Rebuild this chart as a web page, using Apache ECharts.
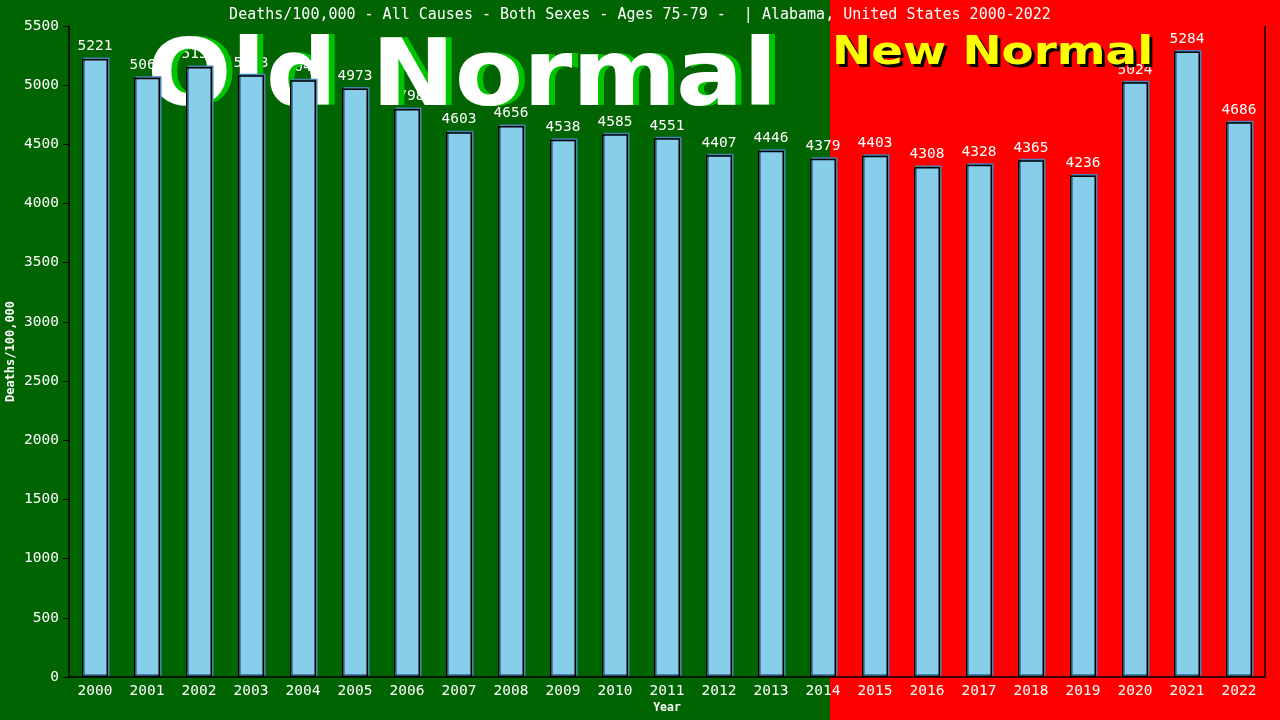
<!DOCTYPE html>
<html><head><meta charset="utf-8">
<script src="https://cdn.jsdelivr.net/npm/echarts@6/dist/echarts.min.js"></script>
<style>html,body{margin:0;padding:0;background:#000}#c{width:1280px;height:720px}</style>
</head><body><div id="c"></div>
<script>
const years = ['2000','2001','2002','2003','2004','2005','2006','2007','2008','2009','2010','2011','2012','2013','2014','2015','2016','2017','2018','2019','2020','2021','2022'];
const deaths = [5221,5063,5153,5083,5042,4973,4798,4603,4656,4538,4585,4551,4407,4446,4379,4403,4308,4328,4365,4236,5024,5284,4686];
const yTicks = {min:0, max:5500, interval:500};
const titleText = 'Deaths/100,000 - All Causes - Both Sexes - Ages 75-79 -  | Alabama, United States 2000-2022';
const mono = '"DejaVu Sans Mono", "Liberation Mono", monospace';
const sans = '"DejaVu Sans", sans-serif';

function bigText(txt, x, y, size, sx, fill, shadow, dx, dy) {
  return [
    {type:'text',z:1.4,x:x+dx,y:y+dy,scaleX:sx,silent:true,style:{text:txt,fill:shadow,fontSize:size,fontWeight:'bold',fontFamily:sans,verticalAlign:'top'}},
    {type:'text',z:1.5,x:x,y:y,scaleX:sx,silent:true,style:{text:txt,fill:fill,fontSize:size,fontWeight:'bold',fontFamily:sans,verticalAlign:'top'}}
  ];
}

const chart = echarts.init(document.getElementById('c'));
chart.setOption({
  animation:false,
  backgroundColor:'#006400',
  title:{text:titleText,left:'center',top:3,textStyle:{color:'#fff',fontFamily:mono,fontSize:15,fontWeight:'normal'}},
  graphic:[
    {type:'rect',z:-10,shape:{x:0,y:0,width:830,height:720},style:{fill:'#006400'},silent:true},
    {type:'rect',z:-10,shape:{x:830,y:0,width:450,height:720},style:{fill:'#ff0000'},silent:true}
  ].concat(
    bigText('Old Normal',147,34,93,1.07,'#ffffff','#00c400',6,0),
    bigText('New Normal',832,34,39,1.2,'#ffff00','#000000',3,3),
    [{type:'line',z:2,shape:{x1:1265,y1:26,x2:1265,y2:677},style:{stroke:'#000',lineWidth:1.5}}]
  ),
  grid:{left:69,right:15,top:26,bottom:43,show:false,outerBoundsMode:'none',containLabel:false},
  xAxis:{type:'category',data:years,name:'Year',nameLocation:'middle',nameGap:25,nameMoveOverlap:false,
    nameTextStyle:{color:'#fff',fontFamily:mono,fontSize:11.5,fontWeight:'bold'},
    axisLine:{show:true,lineStyle:{color:'#000',width:1.5}},axisTick:{show:false},
    axisLabel:{color:'#fff',fontFamily:mono,fontSize:14.5,margin:7}},
  yAxis:{type:'value',min:yTicks.min,max:yTicks.max,interval:yTicks.interval,name:'Deaths/100,000',nameLocation:'middle',nameGap:52,nameMoveOverlap:false,
    nameTextStyle:{color:'#fff',fontFamily:mono,fontSize:12,fontWeight:'bold'},
    axisLine:{show:true,lineStyle:{color:'#000',width:1.5}},axisTick:{show:true,length:6,lineStyle:{color:'#000'}},
    splitLine:{show:false},
    axisLabel:{color:'#fff',fontFamily:mono,fontSize:14.5,margin:10,formatter:v=>String(v)}},
  series:[
    {type:'bar',z:1,data:deaths,barWidth:'50%',barGap:'-100%',itemStyle:{color:'rgba(0,0,0,0)'},
     label:{show:true,position:'top',distance:5,color:'#fff',fontFamily:mono,fontSize:14.5}},
    {type:'bar',z:3,data:deaths,barWidth:'50%',barGap:'-100%',
     itemStyle:{color:'#87ceeb',borderColor:'#000',borderWidth:1.5,shadowColor:'#4682b4',shadowOffsetX:1.5,shadowOffsetY:-1.5,shadowBlur:0}}
  ]
});
</script></body></html>
